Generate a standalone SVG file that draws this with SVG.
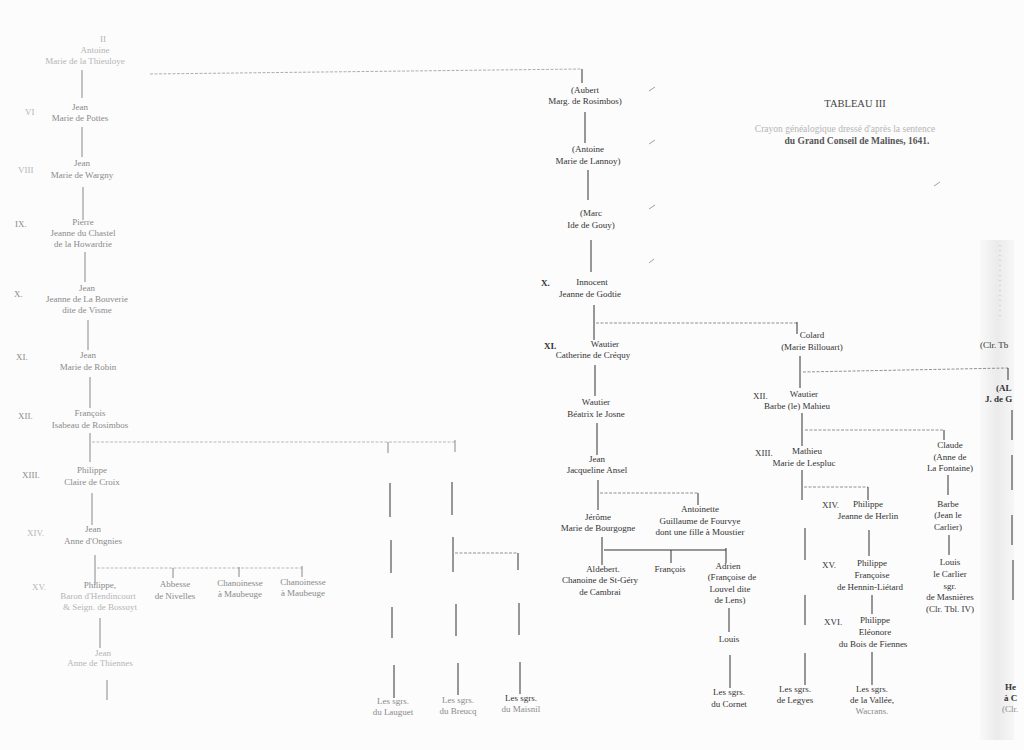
<svg xmlns="http://www.w3.org/2000/svg" width="1024" height="750" viewBox="0 0 1024 750">
<defs>
<linearGradient id="band" x1="0" y1="0" x2="1" y2="0">
<stop offset="0" stop-color="#f9f9f9"/>
<stop offset="0.5" stop-color="#ebebeb"/>
<stop offset="1" stop-color="#f6f6f6"/>
</linearGradient>
<style>
text{font-family:"Liberation Serif","DejaVu Serif",serif;font-size:9px;fill:#333;text-anchor:middle}
.f{fill:#8a8a8a}
.ff{fill:#b5b5b5}
.n{text-anchor:start}
.ti{font-size:10.5px;fill:#444}
.sub{font-size:9.5px}
.b{font-weight:bold}
.l{stroke:#333;stroke-width:1;fill:none}
.lf{stroke:#888;stroke-width:1;fill:none}
.d{stroke:#777;stroke-width:0.8;stroke-dasharray:3 1.5;fill:none}
.m{stroke:#888;stroke-width:0.8;fill:none}
</style>
</defs>
<rect width="1024" height="750" fill="#fcfcfc"/>
<rect x="980" y="240" width="34" height="500" fill="url(#band)"/>

<g id="title">
<text x="855" y="107" class="ti">TABLEAU III</text>
<text x="845" y="132" class="sub ff">Crayon généalogique dressé d'après la sentence</text>
<text x="857" y="144" class="sub b" style="fill:#555">du Grand Conseil de Malines, 1641.</text>
</g>

<g id="connectors">
<path class="lf" d="M82 70V98M82 127V157M83 187V220M85 252V282M88 320V350M90 377V408M90 433V462M92 493V525M95 555V585M100 618V648M107 680V700"/>
<path class="d" style="stroke:#aaa" d="M92 442H455M97 568H302"/>
<path class="lf" d="M388 442V453M455 440V452M173 568V578M239 567V577M302 566V577"/>
<path class="l" d="M390 483V517M391 540V573M392 607V638M394 665V698M452 482V515M453 537V572M456 604V636M458 663V695M519 603V635M520 662V694M518 553V570"/>
<path class="d" d="M455 553H518"/>
<path class="d" style="stroke:#999" d="M150 74L582 69"/>
<path class="l" d="M582 69V83"/>
<path class="l" d="M585 112V143M588 170V200M591 240V272M594 305V340M595 365V396M597 423V455M598 480V510M602 537V565"/>
<path class="d" d="M596 323H797M600 493H698"/>
<path class="l" d="M797 322V334M698 493V505"/>
<path class="l" d="M604 550H726M671 550V563M726 548V563M729 608V632M730 655V688"/>
<path class="l" d="M800 356V388M802 413V446M802 470V500M805 528V560M805 595V625M805 653V685"/>
<path class="d" d="M803 372L1008 368M805 430H944M804 487H868"/>
<path class="l" d="M1008 368V380M944 430V440M868 487V500M869 530V556M872 595V614M872 652V685M948 475V495M949 535V555"/>
<path class="l" d="M1012 410V440M1012 455V490M1012 515V545M1013 560V600"/>
<path style="stroke:#bbb;stroke-dasharray:1 4;fill:none" d="M1000 245V320"/>
<path class="m" d="M649 91L655 87M649 144L655 140M649 209L655 205M649 263L654 259M934 186L940 182"/>
</g>

<g id="n-II">
<text x="103" y="42" class="ff">II</text>
<text x="95" y="53" class="ff">Antoine</text>
<text x="85" y="64" class="ff">Marie de la Thieuloye</text>
</g>
<g id="n-VI">
<text x="25" y="115" class="ff n">VI</text>
<text x="80" y="110" class="f">Jean</text>
<text x="80" y="121" class="f">Marie de Pottes</text>
</g>
<g id="n-VIII">
<text x="18" y="173" class="ff n">VIII</text>
<text x="82" y="166" class="f">Jean</text>
<text x="82" y="178" class="f">Marie de Wargny</text>
</g>
<g id="n-IX">
<text x="15" y="227" class="f n">IX.</text>
<text x="83" y="225" class="f">Pierre</text>
<text x="83" y="236" class="f">Jeanne du Chastel</text>
<text x="83" y="247" class="f">de la Howardrie</text>
</g>
<g id="n-X-left">
<text x="14" y="297" class="f n">X.</text>
<text x="87" y="291" class="f">Jean</text>
<text x="87" y="302" class="f">Jeanne de La Bouverie</text>
<text x="87" y="313" class="f">dite de Visme</text>
</g>
<g id="n-XI-left">
<text x="16" y="360" class="f n">XI.</text>
<text x="88" y="358" class="f">Jean</text>
<text x="88" y="370" class="f">Marie de Robin</text>
</g>
<g id="n-XII-left">
<text x="18" y="419" class="f n">XII.</text>
<text x="90" y="416" class="f">François</text>
<text x="90" y="428" class="f">Isabeau de Rosimbos</text>
</g>
<g id="n-XIII-left">
<text x="22" y="478" class="f n">XIII.</text>
<text x="92" y="473" class="f">Philippe</text>
<text x="92" y="485" class="f">Claire de Croix</text>
</g>
<g id="n-XIV-left">
<text x="27" y="536" class="ff n">XIV.</text>
<text x="93" y="532" class="f">Jean</text>
<text x="93" y="544" class="f">Anne d'Ongnies</text>
</g>
<g id="n-XV-left">
<text x="32" y="590" class="ff n">XV.</text>
<text x="100" y="588" class="f">Philippe,</text>
<text x="98" y="599" class="ff">Baron d'Hendincourt</text>
<text x="100" y="610" class="ff">&amp; Seign. de Bossuyt</text>
</g>
<g id="n-abbesse">
<text x="175" y="587" class="f">Abbesse</text>
<text x="175" y="599" class="f">de Nivelles</text>
</g>
<g id="n-chan1">
<text x="240" y="586" class="f">Chanoinesse</text>
<text x="240" y="597" class="f">à Maubeuge</text>
</g>
<g id="n-chan2">
<text x="303" y="585" class="f">Chanoinesse</text>
<text x="303" y="596" class="f">à Maubeuge</text>
</g>
<g id="n-XVI-left">
<text x="103" y="656" class="ff">Jean</text>
<text x="100" y="666" class="ff">Anne de Thiennes</text>
</g>
<g id="n-sgrs-a">
<text x="393" y="704" class="f">Les sgrs.</text>
<text x="393" y="715" class="f">du Lauguet</text>
</g>
<g id="n-sgrs-b">
<text x="458" y="703" class="f">Les sgrs.</text>
<text x="458" y="714" class="f">du Breucq</text>
</g>
<g id="n-sgrs-c">
<text x="521" y="701">Les sgrs.</text>
<text x="521" y="712" class="f">du Maisnil</text>
</g>

<g id="n-aubert">
<text x="585" y="93">(Aubert</text>
<text x="585" y="104">Marg. de Rosimbos)</text>
</g>
<g id="n-antoine">
<text x="588" y="152">(Antoine</text>
<text x="588" y="164">Marie de Lannoy)</text>
</g>
<g id="n-marc">
<text x="591" y="216">(Marc</text>
<text x="591" y="228">Ide de Gouy)</text>
</g>
<g id="n-X">
<text x="541" y="286" class="n b">X.</text>
<text x="592" y="285">Innocent</text>
<text x="590" y="297">Jeanne de Godtie</text>
</g>
<g id="n-XI">
<text x="544" y="349" class="n b">XI.</text>
<text x="605" y="347">Wautier</text>
<text x="593" y="358">Catherine de Créquy</text>
</g>
<g id="n-wautier2">
<text x="596" y="405">Wautier</text>
<text x="596" y="417">Béatrix le Josne</text>
</g>
<g id="n-jean">
<text x="597" y="462">Jean</text>
<text x="597" y="473">Jacqueline Ansel</text>
</g>
<g id="n-jerome">
<text x="598" y="520">Jérôme</text>
<text x="598" y="531">Marie de Bourgogne</text>
</g>
<g id="n-antoinette">
<text x="700" y="512">Antoinette</text>
<text x="700" y="524">Guillaume de Fourvye</text>
<text x="700" y="535">dont une fille à Moustier</text>
</g>
<g id="n-aldebert">
<text x="603" y="572">Aldebert.</text>
<text x="600" y="583">Chanoine de St-Géry</text>
<text x="600" y="595">de Cambrai</text>
</g>
<g id="n-francois">
<text x="670" y="572">François</text>
</g>
<g id="n-adrien">
<text x="728" y="569">Adrien</text>
<text x="732" y="580">(Françoise de</text>
<text x="730" y="592">Louvel dite</text>
<text x="730" y="603">de Lens)</text>
</g>
<g id="n-louis">
<text x="729" y="642">Louis</text>
</g>
<g id="n-cornet">
<text x="729" y="695">Les sgrs.</text>
<text x="729" y="707">du Cornet</text>
</g>

<g id="n-colard">
<text x="812" y="338">Colard</text>
<text x="812" y="350">(Marie Billouart)</text>
</g>
<g id="n-XII">
<text x="753" y="399" class="n">XII.</text>
<text x="804" y="397">Wautier</text>
<text x="797" y="409">Barbe (le) Mahieu</text>
</g>
<g id="n-XIII">
<text x="755" y="456" class="n">XIII.</text>
<text x="807" y="454">Mathieu</text>
<text x="804" y="466">Marie de Lespluc</text>
</g>
<g id="n-claude">
<text x="950" y="448">Claude</text>
<text x="950" y="460">(Anne de</text>
<text x="950" y="471">La Fontaine)</text>
</g>
<g id="n-XIV">
<text x="822" y="508" class="n">XIV.</text>
<text x="868" y="507">Philippe</text>
<text x="868" y="519">Jeanne de Herlin</text>
</g>
<g id="n-barbe">
<text x="948" y="507">Barbe</text>
<text x="948" y="518">(Jean le</text>
<text x="948" y="530">Carlier)</text>
</g>
<g id="n-XV">
<text x="822" y="568" class="n">XV.</text>
<text x="872" y="566">Philippe</text>
<text x="872" y="578">Françoise</text>
<text x="870" y="590">de Hennin-Liétard</text>
</g>
<g id="n-louis-carlier">
<text x="950" y="565">Louis</text>
<text x="950" y="577">le Carlier</text>
<text x="950" y="589">sgr.</text>
<text x="950" y="600">de Masnières</text>
<text x="950" y="612">(Clr. Tbl. IV)</text>
</g>
<g id="n-XVI">
<text x="824" y="625" class="n">XVI.</text>
<text x="875" y="623">Philippe</text>
<text x="875" y="635">Eléonore</text>
<text x="873" y="647">du Bois de Fiennes</text>
</g>
<g id="n-legyes">
<text x="795" y="692">Les sgrs.</text>
<text x="795" y="703">de Legyes</text>
</g>
<g id="n-vallee">
<text x="872" y="692">Les sgrs.</text>
<text x="872" y="703">de la Vallée,</text>
<text x="872" y="714" class="f">Wacrans.</text>
</g>

<g id="n-right-edge">
<text x="980" y="348" class="n">(Clr. Tb</text>
<text x="996" y="391" class="n b">(AL</text>
<text x="985" y="402" class="n b">J. de G</text>
<text x="1005" y="690" class="n b">He</text>
<text x="1004" y="701" class="n b">à C</text>
<text x="1002" y="712" class="n f">(Clr.</text>
</g>
</svg>
